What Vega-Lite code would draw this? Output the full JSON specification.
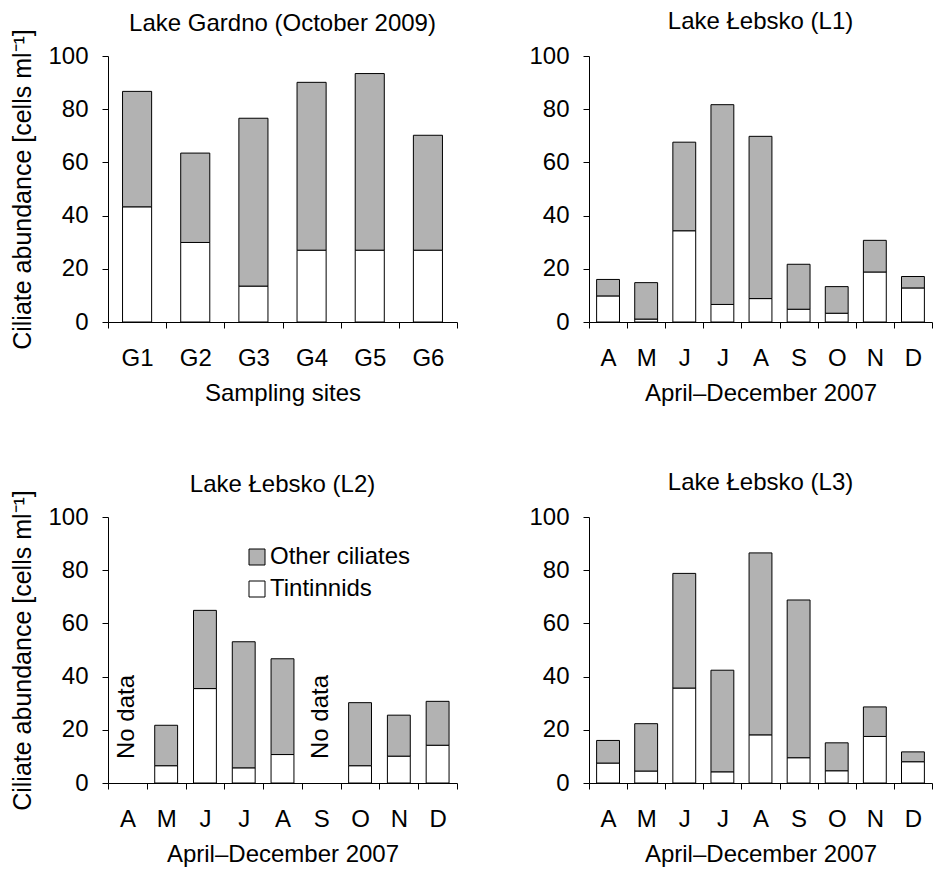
{
  "$schema": "https://vega.github.io/schema/vega-lite/v6.json",
  "background": "white",
  "padding": {"left": 10, "top": 10, "right": 4, "bottom": 4},
  "config": {
    "font": "Liberation Sans",
    "view": {"stroke": null},
    "scale": {"bandPaddingInner": 0, "bandPaddingOuter": 0},
    "axis": {
      "grid": false,
      "domainColor": "black",
      "tickColor": "black",
      "labelColor": "black",
      "titleColor": "black",
      "labelFontSize": 24,
      "titleFontSize": 24,
      "titleFontWeight": "normal",
      "tickSize": 6,
      "domainWidth": 1,
      "tickWidth": 1
    },
    "axisX": {"labelPadding": 18, "titlePadding": 11, "labelAngle": 0, "tickBand": "extent"},
    "axisY": {"labelPadding": 14, "titlePadding": 12, "titleFontSize": 25},
    "title": {"fontSize": 24, "fontWeight": "normal", "color": "black", "frame": "group", "anchor": "middle", "offset": 10},
    "concat": {"spacing": 70}
  },
  "datasets": {
    "gardno": [
      {"site": "G1", "type": "Tintinnids", "value": 43.3},
      {"site": "G1", "type": "Other ciliates", "value": 43.4},
      {"site": "G2", "type": "Tintinnids", "value": 29.9},
      {"site": "G2", "type": "Other ciliates", "value": 33.6},
      {"site": "G3", "type": "Tintinnids", "value": 13.5},
      {"site": "G3", "type": "Other ciliates", "value": 63.1},
      {"site": "G4", "type": "Tintinnids", "value": 27.0},
      {"site": "G4", "type": "Other ciliates", "value": 63.1},
      {"site": "G5", "type": "Tintinnids", "value": 27.0},
      {"site": "G5", "type": "Other ciliates", "value": 66.4},
      {"site": "G6", "type": "Tintinnids", "value": 27.0},
      {"site": "G6", "type": "Other ciliates", "value": 43.2}
    ],
    "l1": [
      {"month": "Apr", "type": "Tintinnids", "value": 9.8},
      {"month": "Apr", "type": "Other ciliates", "value": 6.2},
      {"month": "May", "type": "Tintinnids", "value": 1.1},
      {"month": "May", "type": "Other ciliates", "value": 13.7},
      {"month": "Jun", "type": "Tintinnids", "value": 34.3},
      {"month": "Jun", "type": "Other ciliates", "value": 33.3},
      {"month": "Jul", "type": "Tintinnids", "value": 6.6},
      {"month": "Jul", "type": "Other ciliates", "value": 75.1},
      {"month": "Aug", "type": "Tintinnids", "value": 8.8},
      {"month": "Aug", "type": "Other ciliates", "value": 61.0},
      {"month": "Sep", "type": "Tintinnids", "value": 4.8},
      {"month": "Sep", "type": "Other ciliates", "value": 16.9},
      {"month": "Oct", "type": "Tintinnids", "value": 3.3},
      {"month": "Oct", "type": "Other ciliates", "value": 10.0},
      {"month": "Nov", "type": "Tintinnids", "value": 18.8},
      {"month": "Nov", "type": "Other ciliates", "value": 11.9},
      {"month": "Dec", "type": "Tintinnids", "value": 12.8},
      {"month": "Dec", "type": "Other ciliates", "value": 4.3}
    ],
    "l2": [
      {"month": "May", "type": "Tintinnids", "value": 6.5},
      {"month": "May", "type": "Other ciliates", "value": 15.2},
      {"month": "Jun", "type": "Tintinnids", "value": 35.5},
      {"month": "Jun", "type": "Other ciliates", "value": 29.4},
      {"month": "Jul", "type": "Tintinnids", "value": 5.7},
      {"month": "Jul", "type": "Other ciliates", "value": 47.4},
      {"month": "Aug", "type": "Tintinnids", "value": 10.7},
      {"month": "Aug", "type": "Other ciliates", "value": 36.0},
      {"month": "Oct", "type": "Tintinnids", "value": 6.5},
      {"month": "Oct", "type": "Other ciliates", "value": 23.7},
      {"month": "Nov", "type": "Tintinnids", "value": 10.1},
      {"month": "Nov", "type": "Other ciliates", "value": 15.4},
      {"month": "Dec", "type": "Tintinnids", "value": 14.2},
      {"month": "Dec", "type": "Other ciliates", "value": 16.5}
    ],
    "l2nodata": [
      {"month": "Apr", "label": "No data"},
      {"month": "Sep", "label": "No data"}
    ],
    "l3": [
      {"month": "Apr", "type": "Tintinnids", "value": 7.5},
      {"month": "Apr", "type": "Other ciliates", "value": 8.5},
      {"month": "May", "type": "Tintinnids", "value": 4.5},
      {"month": "May", "type": "Other ciliates", "value": 17.8},
      {"month": "Jun", "type": "Tintinnids", "value": 35.7},
      {"month": "Jun", "type": "Other ciliates", "value": 43.1},
      {"month": "Jul", "type": "Tintinnids", "value": 4.2},
      {"month": "Jul", "type": "Other ciliates", "value": 38.2},
      {"month": "Aug", "type": "Tintinnids", "value": 18.1},
      {"month": "Aug", "type": "Other ciliates", "value": 68.4},
      {"month": "Sep", "type": "Tintinnids", "value": 9.5},
      {"month": "Sep", "type": "Other ciliates", "value": 59.3},
      {"month": "Oct", "type": "Tintinnids", "value": 4.6},
      {"month": "Oct", "type": "Other ciliates", "value": 10.5},
      {"month": "Nov", "type": "Tintinnids", "value": 17.5},
      {"month": "Nov", "type": "Other ciliates", "value": 11.1},
      {"month": "Dec", "type": "Tintinnids", "value": 8.0},
      {"month": "Dec", "type": "Other ciliates", "value": 3.7}
    ]
  },
  "columns": 2,
  "spacing": {"row": 66, "column": 70},
  "resolve": {"legend": {"color": "independent"}},
  "concat": [
    {
      "title": {"text": "Lake Gardno (October 2009)", "offset": -7},
      "width": 349,
      "height": 266,
      "data": {"name": "gardno"},
      "mark": {"type": "bar", "stroke": "black", "strokeWidth": 1, "width": {"band": 0.5}},
      "encoding": {
        "x": {"field": "site", "type": "nominal", "sort": null, "axis": {"title": "Sampling sites"}},
        "y": {"field": "value", "type": "quantitative", "stack": "zero", "scale": {"domain": [0, 100]}, "axis": {"values": [0, 20, 40, 60, 80, 100], "title": "Ciliate abundance [cells ml⁻¹]"}},
        "color": {"field": "type", "type": "nominal", "scale": {"domain": ["Other ciliates", "Tintinnids"], "range": ["#b2b2b2", "#ffffff"]}, "legend": null},
        "order": {"field": "type", "sort": "descending"}
      }
    },
    {
      "title": {"text": "Lake Łebsko (L1)", "offset": 10},
      "width": 343,
      "height": 266,
      "data": {"name": "l1"},
      "mark": {"type": "bar", "stroke": "black", "strokeWidth": 1, "width": {"band": 0.6}},
      "encoding": {
        "x": {"field": "month", "type": "nominal", "scale": {"domain": ["Apr", "May", "Jun", "Jul", "Aug", "Sep", "Oct", "Nov", "Dec"]}, "axis": {"title": "April–December 2007", "labelExpr": "substring(datum.label, 0, 1)"}},
        "y": {"field": "value", "type": "quantitative", "stack": "zero", "scale": {"domain": [0, 100]}, "axis": {"values": [0, 20, 40, 60, 80, 100], "title": null}},
        "color": {"field": "type", "type": "nominal", "scale": {"domain": ["Other ciliates", "Tintinnids"], "range": ["#b2b2b2", "#ffffff"]}, "legend": null},
        "order": {"field": "type", "sort": "descending"}
      }
    },
    {
      "title": {"text": "Lake Łebsko (L2)", "offset": -7},
      "width": 349,
      "height": 266,
      "layer": [
        {
          "data": {"name": "l2"},
          "mark": {"type": "bar", "stroke": "black", "strokeWidth": 1, "width": {"band": 0.59}},
          "encoding": {
            "x": {"field": "month", "type": "nominal", "scale": {"domain": ["Apr", "May", "Jun", "Jul", "Aug", "Sep", "Oct", "Nov", "Dec"]}, "axis": {"title": "April–December 2007", "labelExpr": "substring(datum.label, 0, 1)"}},
            "y": {"field": "value", "type": "quantitative", "stack": "zero", "scale": {"domain": [0, 100]}, "axis": {"values": [0, 20, 40, 60, 80, 100], "title": "Ciliate abundance [cells ml⁻¹]"}},
            "color": {"field": "type", "type": "nominal", "scale": {"domain": ["Other ciliates", "Tintinnids"], "range": ["#b2b2b2", "#ffffff"]},
              "legend": {"orient": "none", "legendX": 137, "legendY": 28, "title": null, "symbolType": "square", "symbolSize": 256, "symbolStrokeColor": "black", "symbolStrokeWidth": 1, "labelFontSize": 24, "labelColor": "black", "labelOffset": 1, "rowPadding": 8}},
            "order": {"field": "type", "sort": "descending"}
          }
        },
        {
          "data": {"name": "l2nodata"},
          "mark": {"type": "text", "angle": 270, "align": "left", "baseline": "middle", "fontSize": 24, "color": "black"},
          "encoding": {
            "x": {"field": "month", "type": "nominal"},
            "y": {"datum": 9, "type": "quantitative"},
            "text": {"field": "label"}
          }
        }
      ]
    },
    {
      "title": {"text": "Lake Łebsko (L3)", "offset": 10},
      "width": 343,
      "height": 266,
      "data": {"name": "l3"},
      "mark": {"type": "bar", "stroke": "black", "strokeWidth": 1, "width": {"band": 0.6}},
      "encoding": {
        "x": {"field": "month", "type": "nominal", "scale": {"domain": ["Apr", "May", "Jun", "Jul", "Aug", "Sep", "Oct", "Nov", "Dec"]}, "axis": {"title": "April–December 2007", "labelExpr": "substring(datum.label, 0, 1)"}},
        "y": {"field": "value", "type": "quantitative", "stack": "zero", "scale": {"domain": [0, 100]}, "axis": {"values": [0, 20, 40, 60, 80, 100], "title": null}},
        "color": {"field": "type", "type": "nominal", "scale": {"domain": ["Other ciliates", "Tintinnids"], "range": ["#b2b2b2", "#ffffff"]}, "legend": null},
        "order": {"field": "type", "sort": "descending"}
      }
    }
  ]
}
